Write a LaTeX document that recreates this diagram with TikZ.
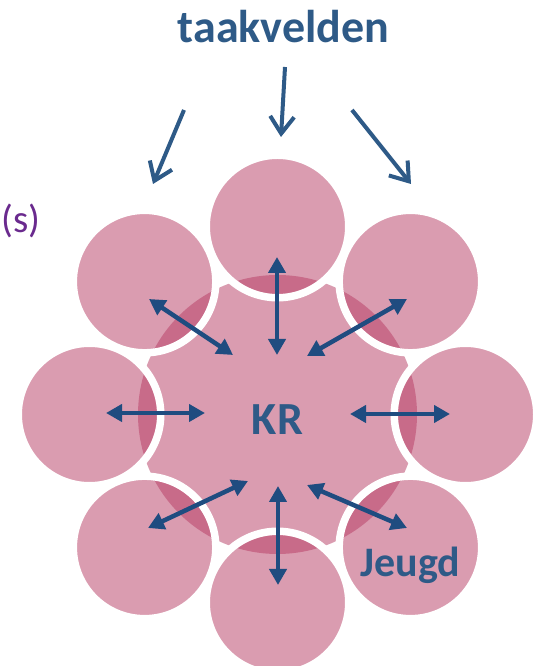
\documentclass[tikz,border=0pt]{standalone}
\usepackage{fontspec}
\setmainfont{Carlito}
\usetikzlibrary{calc, positioning, arrows.meta}
\definecolor{krpink}{RGB}{183,59,99}
\definecolor{krtext}{RGB}{46,90,135}
\definecolor{krarrow}{RGB}{31,76,128}
\definecolor{krpurple}{RGB}{106,42,142}

\begin{document}
\begin{tikzpicture}[
    x=1pt, y=1pt,
    centre/.style={circle, inner sep=0pt, minimum size=279pt, fill=krpink, fill opacity=0.5, text opacity=1},
    field/.style={circle, inner sep=0pt, minimum size=142.5pt, draw=white, line width=7.5pt, fill=krpink, fill opacity=0.5, draw opacity=1, text opacity=1},
    bigtext/.style={text=krtext, fill opacity=1, text opacity=1, font=\bfseries\fontsize{46}{50}\selectfont},
    smalltext/.style={text=krtext, fill opacity=1, text opacity=1, font=\bfseries\fontsize{42}{46}\selectfont},
    feed/.style={-{Straight Barb[length=17pt, width=24pt]}, line width=4pt, draw=krtext},
    link/.style={{Triangle[length=16pt, width=17pt]}-{Triangle[length=16pt, width=17pt]}, line width=4.5pt, draw=krarrow}
]
\useasboundingbox (0,0) rectangle (535,666);
\fill[white] (0,0) rectangle (535,666);

\node[centre, label={[bigtext, yshift=-5pt]center:KR}] (kr) at (277.5,251.5) {};

\node[field] (n) at ($(kr)+(90:188)$) {};
\node[field] (ne) at ($(kr)+(45:188)$) {};
\node[field] (e) at ($(kr)+(0:188)$) {};
\node[field, label={[smalltext, yshift=-18pt]center:Jeugd}] (se) at ($(kr)+(-45:188)$) {};
\node[field] (s) at ($(kr)+(-90:188)$) {};
\node[field] (sw) at ($(kr)+(-135:188)$) {};
\node[field] (w) at ($(kr)+(180:188)$) {};
\node[field] (nw) at ($(kr)+(135:188)$) {};

\node[bigtext, anchor=base] (tv) at (283.5,623) {taakvelden};
\node[text=krpurple, anchor=base west, inner sep=0pt, font=\fontsize{39}{43}\selectfont] (extra) at (1,433) {(s)};

% arrows from the title
\coordinate (tvl) at (184,556);
\coordinate (tvm) at (285,599);
\coordinate (tvr) at (352,556);
\coordinate (tol) at (153,482);
\coordinate (tom) at (281,529);
\coordinate (tor) at (411,482);
\draw[feed] (tvl) -- (tol);
\draw[feed] (tvm) -- (tom);
\draw[feed] (tvr) -- (tor);

% arrows between KR and the fields
\coordinate (an1) at (277,409); \coordinate (an2) at (277,311);
\coordinate (as1) at (278,180); \coordinate (as2) at (278,81);
\coordinate (aw1) at (106,253); \coordinate (aw2) at (205,253);
\coordinate (ae1) at (350,252); \coordinate (ae2) at (450,252);
\coordinate (anw1) at (149,367); \coordinate (anw2) at (233,311);
\coordinate (ane1) at (407,367); \coordinate (ane2) at (307,310);
\coordinate (asw1) at (248,185); \coordinate (asw2) at (148,138);
\coordinate (ase1) at (307,181); \coordinate (ase2) at (407,138);
\draw[link] (an1) -- (an2);
\draw[link] (as1) -- (as2);
\draw[link] (aw1) -- (aw2);
\draw[link] (ae1) -- (ae2);
\draw[link] (anw1) -- (anw2);
\draw[link] (ane1) -- (ane2);
\draw[link] (asw1) -- (asw2);
\draw[link] (ase1) -- (ase2);
\end{tikzpicture}
\end{document}
